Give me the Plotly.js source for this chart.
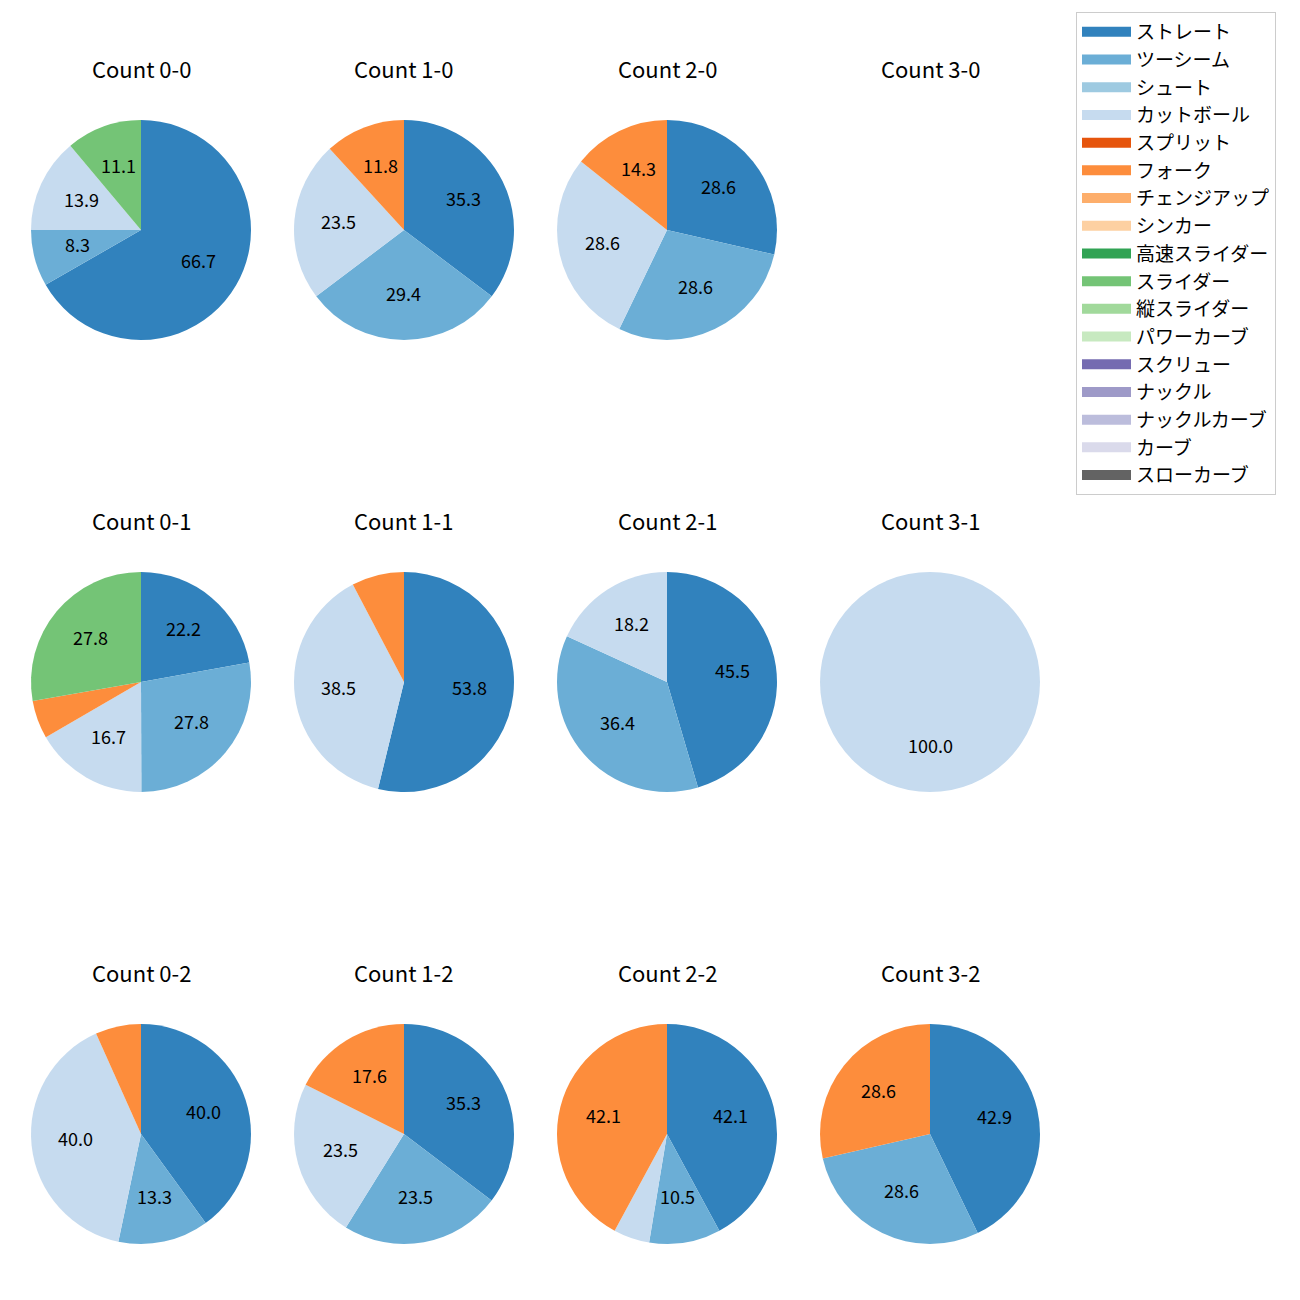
<!DOCTYPE html>
<html>
<head>
<meta charset="utf-8">
<script src="https://cdn.plot.ly/plotly-3.0.1.min.js"></script>
<style>body{margin:0;background:#fff;}</style>
</head>
<body>
<div id="chart" style="width:1300px;height:1300px;"></div>
<script>
// ---- data ----
const pitchTypes = ['ストレート','ツーシーム','シュート','カットボール','スプリット','フォーク','チェンジアップ','シンカー','高速スライダー','スライダー','縦スライダー','パワーカーブ','スクリュー','ナックル','ナックルカーブ','カーブ','スローカーブ'];
const pitchColors = ['#3182bd','#6baed6','#9ecae1','#c6dbef','#e6550d','#fd8d3c','#fdae6b','#fdd0a2','#31a354','#74c476','#a1d99b','#c7e9c0','#756bb1','#9e9ac8','#bcbddc','#dadaeb','#636363'];

const countTitles = ['Count 0-0','Count 1-0','Count 2-0','Count 3-0','Count 0-1','Count 1-1','Count 2-1','Count 3-1','Count 0-2','Count 1-2','Count 2-2','Count 3-2'];

const labels_0_0 = ['ストレート','ツーシーム','カットボール','スライダー'];
const values_0_0 = [66.7, 8.3, 13.9, 11.1];
const labels_1_0 = ['ストレート','ツーシーム','カットボール','フォーク'];
const values_1_0 = [35.3, 29.4, 23.5, 11.8];
const labels_2_0 = ['ストレート','ツーシーム','カットボール','フォーク'];
const values_2_0 = [28.6, 28.6, 28.6, 14.3];
const labels_3_0 = [];
const values_3_0 = [];
const labels_0_1 = ['ストレート','ツーシーム','カットボール','フォーク','スライダー'];
const values_0_1 = [22.2, 27.8, 16.7, 5.6, 27.8];
const labels_1_1 = ['ストレート','カットボール','フォーク'];
const values_1_1 = [53.8, 38.5, 7.7];
const labels_2_1 = ['ストレート','ツーシーム','カットボール'];
const values_2_1 = [45.5, 36.4, 18.2];
const labels_3_1 = ['カットボール'];
const values_3_1 = [100.0];
const labels_0_2 = ['ストレート','ツーシーム','カットボール','フォーク'];
const values_0_2 = [40.0, 13.3, 40.0, 6.7];
const labels_1_2 = ['ストレート','ツーシーム','カットボール','フォーク'];
const values_1_2 = [35.3, 23.5, 23.5, 17.6];
const labels_2_2 = ['ストレート','ツーシーム','カットボール','フォーク'];
const values_2_2 = [42.1, 10.5, 5.3, 42.1];
const labels_3_2 = ['ストレート','ツーシーム','フォーク'];
const values_3_2 = [42.9, 28.6, 28.6];

const pieLabels = [labels_0_0, labels_1_0, labels_2_0, labels_3_0, labels_0_1, labels_1_1, labels_2_1, labels_3_1, labels_0_2, labels_1_2, labels_2_2, labels_3_2];
const pieValues = [values_0_0, values_1_0, values_2_0, values_3_0, values_0_1, values_1_1, values_2_1, values_3_1, values_0_2, values_1_2, values_2_2, values_3_2];

// ---- layout constants ----
const W = 1300, H = 1300;
const colCenters = [141, 404, 667, 930];
const rowCenters = [230, 682, 1134];
const R = 110;
const titleOffset = 162;
const labelRadius = 0.6;
const labelLift = 3;
const labelMinPct = 8;
const FONT = '"Noto Sans CJK JP", "Noto Sans", sans-serif';

const colorOf = {};
pitchTypes.forEach((p, i) => colorOf[p] = pitchColors[i]);

const traces = [];
const annotations = [];

pieValues.forEach((vals, k) => {
  const col = k % 4, row = Math.floor(k / 4);
  const cx = colCenters[col], cy = rowCenters[row];
  annotations.push({
    text: countTitles[k], xref: 'paper', yref: 'paper',
    x: cx / W, y: 1 - (cy - titleOffset) / H, xanchor: 'center', yanchor: 'middle',
    showarrow: false, font: {family: FONT, size: 22, color: '#000'}
  });
  if (!vals.length) return;
  const labs = pieLabels[k];
  traces.push({
    type: 'pie', labels: labs, values: vals, sort: false, direction: 'clockwise', rotation: 0,
    marker: {colors: labs.map(l => colorOf[l]), line: {width: 0}},
    textinfo: 'none', hoverinfo: 'label+percent', showlegend: false,
    domain: {x: [(cx - R) / W, (cx + R) / W], y: [1 - (cy + R) / H, 1 - (cy - R) / H]}
  });
  const total = vals.reduce((a, b) => a + b, 0);
  let cum = 0;
  vals.forEach(v => {
    const pct = v / total * 100;
    const mid = (cum + v / 2) / total;
    cum += v;
    if (pct < labelMinPct) return;
    const a = 2 * Math.PI * mid;
    const px = cx + Math.sin(a) * labelRadius * R;
    const py = cy - Math.cos(a) * labelRadius * R - labelLift;
    annotations.push({
      text: pct.toFixed(1), xref: 'paper', yref: 'paper',
      x: px / W, y: 1 - py / H, xanchor: 'center', yanchor: 'middle',
      showarrow: false, font: {family: FONT, size: 18, color: '#000'}
    });
  });
});

// legend entries
pitchTypes.forEach((p, i) => {
  traces.push({
    type: 'scatter', mode: 'lines', x: [null], y: [null], name: p, legendgroup: p,
    line: {color: pitchColors[i], width: 12}, showlegend: true, hoverinfo: 'skip'
  });
});

const layout = {
  width: W, height: H,
  margin: {l: 0, r: 0, t: 0, b: 0},
  paper_bgcolor: '#fff', plot_bgcolor: '#fff',
  font: {family: FONT, color: '#000'},
  xaxis: {visible: false, domain: [0.99, 1]},
  yaxis: {visible: false, domain: [0.99, 1]},
  showlegend: true,
  legend: {
    x: 1076 / W, y: 1 - 12 / H, xanchor: 'left', yanchor: 'top',
    bordercolor: '#cccccc', borderwidth: 1, bgcolor: '#fff',
    font: {family: FONT, size: 19, color: '#000'},
    traceorder: 'grouped', tracegroupgap: 0, itemwidth: 49
  },
  annotations: annotations
};

Plotly.newPlot('chart', traces, layout, {displayModeBar: false, staticPlot: true});
</script>
</body>
</html>
